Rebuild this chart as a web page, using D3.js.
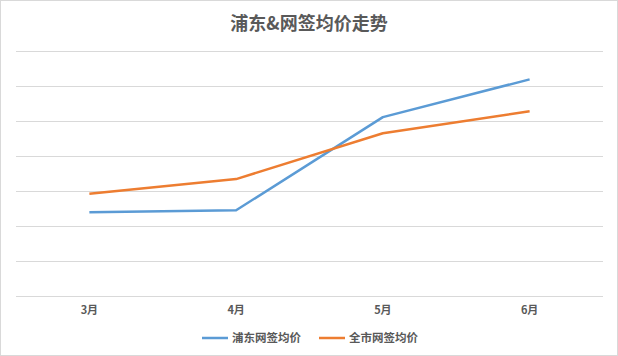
<!DOCTYPE html>
<html><head><meta charset="utf-8">
<script src="https://cdn.jsdelivr.net/npm/d3@7"></script>
<style>html,body{margin:0;padding:0;background:#fff;}svg{display:block;}</style>
</head><body>
<script>
const categories = ["3月", "4月", "5月", "6月"];
const pudong = [2.39, 2.45, 5.11, 6.19];
const citywide = [2.92, 3.34, 4.65, 5.28];
const yTicks = [0, 1, 2, 3, 4, 5, 6, 7];
const seriesNames = ["浦东网签均价", "全市网签均价"];
const colors = ["#5b9bd5", "#ed7d31"];
const title = "浦东&网签均价走势";

(function () {
const W = 618, H = 356;
const svg = d3.select("body").append("svg").attr("width", W).attr("height", H);
svg.append("rect").attr("x", 0.5).attr("y", 0.5).attr("width", W - 1).attr("height", H - 1)
  .attr("fill", "#fff").attr("stroke", "#d9d9d9");

const mLeft = 16, mRight = 603, mTop = 51, mBottom = 296;
const x = d3.scaleBand().domain(categories).range([mLeft, mRight]);
const y = d3.scaleLinear().domain([0, 7]).range([mBottom, mTop]);

const font = "'Noto Sans CJK SC', sans-serif";
svg.append("text").attr("x", 309).attr("y", 30).attr("text-anchor", "middle")
  .attr("font-family", font).attr("font-weight", "bold").attr("font-size", 18)
  .attr("fill", "#595959").text(title);

svg.append("g").selectAll("line").data(yTicks).join("line")
  .attr("x1", mLeft).attr("x2", mRight)
  .attr("y1", d => Math.round(y(d)) + 0.5).attr("y2", d => Math.round(y(d)) + 0.5)
  .attr("stroke", "#d9d9d9").attr("stroke-width", 1);

const xAxis = svg.append("g").attr("transform", `translate(0,${mBottom})`)
  .call(d3.axisBottom(x).tickSize(0).tickPadding(10));
xAxis.select(".domain").remove();
xAxis.selectAll("text").attr("font-family", font).attr("font-weight", "bold")
  .attr("font-size", 11).attr("fill", "#595959");

const line = d3.line().x((d, i) => x(categories[i]) + x.bandwidth() / 2).y(d => y(d));
[pudong, citywide].forEach((s, i) => {
  svg.append("path").datum(s).attr("d", line).attr("fill", "none")
    .attr("stroke", colors[i]).attr("stroke-width", 2.5).attr("stroke-linejoin", "round");
});

const legendX = [202, 319];
seriesNames.forEach((n, i) => {
  const g = svg.append("g").attr("transform", `translate(${legendX[i]},338)`);
  g.append("line").attr("x1", 0).attr("x2", 26).attr("stroke", colors[i]).attr("stroke-width", 2.5);
  g.append("text").attr("x", 30).attr("y", 4).attr("font-family", font).attr("font-weight", "bold")
    .attr("font-size", 11.5).attr("fill", "#595959").text(n);
});
})();
</script>
</body></html>
